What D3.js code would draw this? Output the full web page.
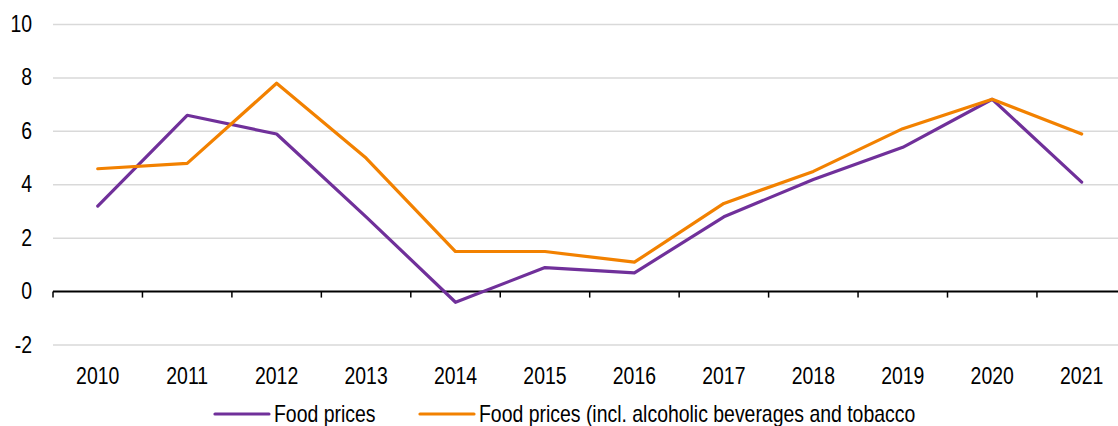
<!DOCTYPE html>
<html><head><meta charset="utf-8">
<script src="https://cdn.jsdelivr.net/npm/d3@7"></script>
<style>body{margin:0;background:#fff}text{font-family:"Liberation Sans",Arial,sans-serif;fill:#000}</style>
</head><body>
<svg id="c" width="1118" height="426"></svg>
<script>
const years = ["2010","2011","2012","2013","2014","2015","2016","2017","2018","2019","2020","2021"];
const foodPrices = [3.2, 6.6, 5.9, 2.8, -0.4, 0.9, 0.7, 2.8, 4.2, 5.4, 7.2, 4.1];
const foodPricesIncl = [4.6, 4.8, 7.8, 5.0, 1.5, 1.5, 1.1, 3.3, 4.5, 6.1, 7.2, 5.9];
const yTicks = [-2, 0, 2, 4, 6, 8, 10];
const seriesNames = ["Food prices", "Food prices (incl. alcoholic beverages and tobacco"];
const colors = ["#70309a", "#f28100"];

const svg = d3.select("#c");
const x = d3.scaleBand().domain(years).range([53, 53 + 12 * 89.45]);
const y = d3.scaleLinear().domain([-2, 10]).range([345, 24.5]);
const sx = 0.845;

// gridlines
svg.append("g").selectAll("line").data(yTicks.filter(d => d !== 0)).join("line")
  .attr("x1", 53).attr("x2", 1118).attr("y1", d => y(d)).attr("y2", d => y(d))
  .attr("stroke", "#d9d9d9").attr("stroke-width", 1.5);

// y labels
svg.append("g").selectAll("text").data(yTicks).join("text")
  .attr("transform", d => `translate(32,${y(d)}) scale(${sx},1)`)
  .attr("text-anchor", "end").attr("dominant-baseline", "central")
  .style("font-size", "23px").text(d => d);

// x axis at zero
const xAxis = d3.axisBottom(x).tickSize(0).tickFormat("");
const ax = svg.append("g").attr("transform", `translate(0,${y(0)})`).call(xAxis);
ax.select(".domain").attr("stroke", "#000").attr("stroke-width", 2).attr("d", `M53,0H1118`);
const edges = [53].concat(years.map(d => x(d) + x.bandwidth()));
ax.selectAll(".edge").data(edges).join("line").attr("class", "edge")
  .attr("x1", d => d).attr("x2", d => d).attr("y1", 0).attr("y2", 6)
  .attr("stroke", "#000").attr("stroke-width", 1.5);

// x labels
svg.append("g").selectAll("text").data(years).join("text")
  .attr("transform", d => `translate(${x(d) + x.bandwidth() / 2},376) scale(${sx},1)`)
  .attr("text-anchor", "middle").attr("dominant-baseline", "central")
  .style("font-size", "23px").text(d => d);

// lines
const line = d3.line().x((d, i) => x(years[i]) + x.bandwidth() / 2).y(d => y(d));
[foodPrices, foodPricesIncl].forEach((s, i) => {
  svg.append("path").datum(s).attr("d", line).attr("fill", "none")
    .attr("stroke", colors[i]).attr("stroke-width", 3.2)
    .attr("stroke-linejoin", "round").attr("stroke-linecap", "round");
});

// legend
const leg = [{x1: 215, x2: 269, tx: 274}, {x1: 420, x2: 474, tx: 479}];
leg.forEach((l, i) => {
  svg.append("line").attr("x1", l.x1).attr("x2", l.x2).attr("y1", 414).attr("y2", 414)
    .attr("stroke", colors[i]).attr("stroke-width", 3.2).attr("stroke-linecap", "round");
  svg.append("text").attr("transform", `translate(${l.tx},414) scale(${sx},1)`)
    .attr("dominant-baseline", "central").style("font-size", "23px").text(seriesNames[i]);
});
</script>
</body></html>
